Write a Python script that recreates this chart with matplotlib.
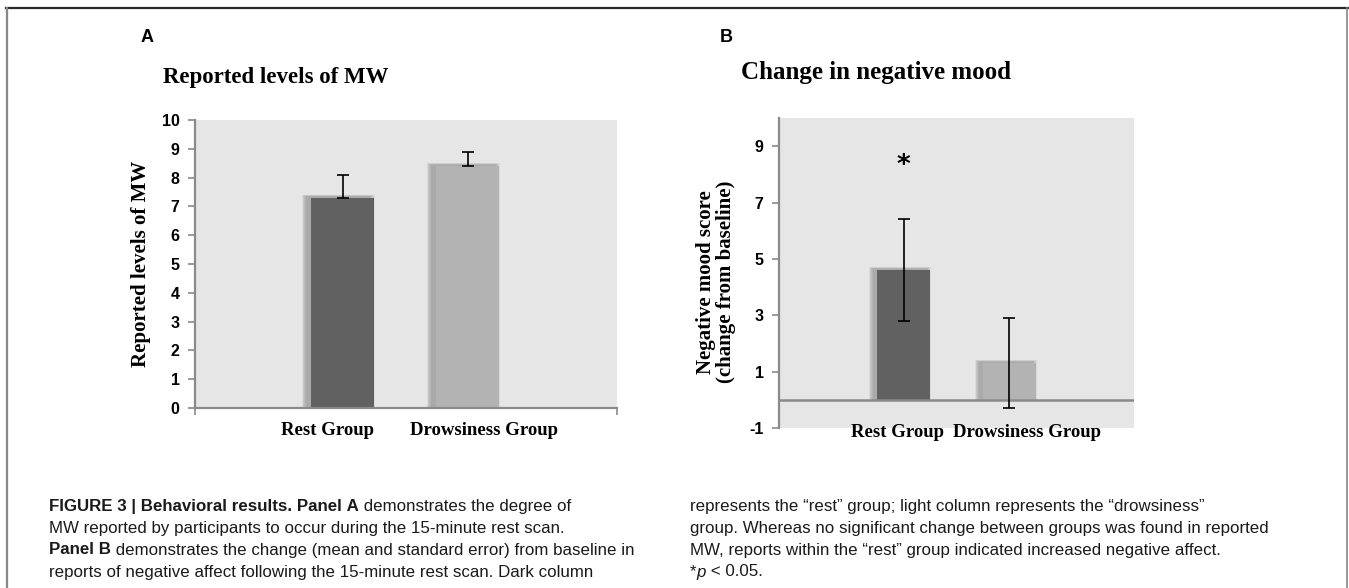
import matplotlib
matplotlib.use("Agg")
import matplotlib.pyplot as plt
import numpy as np
from matplotlib.lines import Line2D
from matplotlib.transforms import blended_transform_factory

# data
groups = ["Rest Group", "Drowsiness Group"]
mw_mean = [7.3, 8.4]
mw_err = [0.8, 0.5]
mood_mean = [4.6, 1.3]
mood_err = [1.8, 1.6]
mw_ticks = list(range(0, 11))
mood_ticks = [-1, 1, 3, 5, 7, 9]

W, H = 1349, 588
DARK = "#616161"
LIGHT = "#b3b3b3"
BG = "#e6e6e6"
AXC = "#8a8a8a"
SERIF = ["Liberation Serif", "DejaVu Serif"]
NUMF = ["Liberation Sans", "DejaVu Sans"]
CAPF = ["Liberation Sans", "DejaVu Sans"]

plt.rcParams["axes.unicode_minus"] = False

fig = plt.figure(figsize=(W / 100, H / 100), dpi=100)


def px_axes(left, top, right, bottom):
    return fig.add_axes([left / W, 1 - bottom / H, (right - left) / W, (bottom - top) / H])


def shadow_bars(ax, x, h, width, color):
    # soft drop shadow up-left of each column
    for k in range(6):
        s = 0.014 * (k + 1)
        ax.bar(x - 0.035, np.array(h) + 0.05 + 0.012 * k, width + s, color="#505050",
               alpha=0.08, zorder=1)
    ax.bar(x, h, width, color=color, zorder=2)


def style_axis(ax, ticks):
    ax.set_facecolor(BG)
    for sp in ["top", "right"]:
        ax.spines[sp].set_visible(False)
    ax.spines["left"].set_color(AXC)
    ax.spines["left"].set_linewidth(1.6)
    ax.set_yticks(ticks)
    ax.tick_params(axis="y", direction="out", length=5, width=1.2, color=AXC, pad=6)
    for lab in ax.get_yticklabels():
        lab.set_fontfamily(NUMF)
        lab.set_fontweight("bold")
        lab.set_fontsize(11.5)


x = np.arange(len(groups))

# ---- Panel A ----
axA = px_axes(195, 120, 617, 408)
shadow_bars(axA, x, mw_mean, 0.5, [DARK, LIGHT])
axA.errorbar(x, mw_mean, yerr=[np.zeros(2), mw_err], fmt="none", ecolor="black",
             elinewidth=1.2, capsize=4, capthick=1.2, zorder=3)
axA.set_xlim(-1.18, 2.196)
axA.set_ylim(0, 10)
style_axis(axA, mw_ticks)
axA.spines["bottom"].set_color(AXC)
axA.spines["bottom"].set_linewidth(1.6)
axA.set_xticks(x + np.array([-0.12, 0.13]))
axA.set_xticklabels(groups, fontfamily=SERIF, fontweight="bold", fontsize=13.5)
axA.tick_params(axis="x", length=0, pad=10)
axA.set_xticks([-1.18, 2.196], minor=True)
axA.tick_params(axis="x", which="minor", length=5, width=1.2, color=AXC, direction="out")
axA.set_ylabel("Reported levels of MW", fontfamily=SERIF, fontweight="bold", fontsize=15, labelpad=8)
fig.text(163 / W, 1 - 78 / H, "Reported levels of MW", fontfamily=SERIF, fontsize=16.5,
         fontweight="bold", va="center", ha="left")
fig.text(147 / W, 1 - 38 / H, "A", fontfamily=["Liberation Sans", "DejaVu Sans"],
         fontweight="bold", fontsize=13, va="center", ha="center")

# ---- Panel B ----
axB = px_axes(779, 118, 1134, 428)
shadow_bars(axB, x, mood_mean, 0.5, [DARK, LIGHT])
axB.errorbar(x, mood_mean, yerr=mood_err, fmt="none", ecolor="black",
             elinewidth=1.2, capsize=4, capthick=1.2, zorder=3)
axB.axhline(0, color=AXC, lw=1.8, zorder=2.5)
axB.set_xlim(-1.175, 2.175)
axB.set_ylim(-1, 10)
style_axis(axB, mood_ticks)
axB.spines["bottom"].set_visible(False)
axB.set_xticks([])
trB = blended_transform_factory(axB.transData, axB.transAxes)
for xi, g in zip(x + np.array([-0.06, 0.165]), groups):
    axB.text(xi, -0.016, g, transform=trB, ha="center", va="center",
             fontfamily=SERIF, fontweight="bold", fontsize=13.5)
axB.text(x[0], 8.3, "*", ha="center", va="center", fontsize=19, fontweight="bold",
         fontfamily=["DejaVu Sans"])
fig.text(716 / W, 1 - 282 / H, "Negative mood score\n(change from baseline)", rotation=90,
         fontfamily=SERIF, fontweight="bold", fontsize=15, ha="center", va="center",
         linespacing=1.05, multialignment="center")
fig.text(741 / W, 1 - 73 / H, "Change in negative mood", fontfamily=SERIF, fontsize=18,
         fontweight="bold", va="center", ha="left")
fig.text(726 / W, 1 - 38 / H, "B", fontfamily=["Liberation Sans", "DejaVu Sans"],
         fontweight="bold", fontsize=13, va="center", ha="center")

# ---- frame ----
fig.add_artist(Line2D([6 / W, 1348 / W], [1 - 8 / H, 1 - 8 / H], color="#2a2a2a", lw=1.6))
fig.add_artist(Line2D([6.5 / W, 6.5 / W], [0, 1 - 8 / H], color="#888888", lw=1.6))
fig.add_artist(Line2D([1347 / W, 1347 / W], [0, 1 - 8 / H], color="#888888", lw=1.2))

# ---- caption ----
left_lines = [
    [("FIGURE 3 | Behavioral results. Panel A", "bold"), (" demonstrates the degree of", "normal")],
    [("MW reported by participants to occur during the 15-minute rest scan.", "normal")],
    [("Panel B", "bold"), (" demonstrates the change (mean and standard error) from baseline in", "normal")],
    [("reports of negative affect following the 15-minute rest scan. Dark column", "normal")],
]
right_lines = [
    [("represents the \u201crest\u201d group; light column represents the \u201cdrowsiness\u201d", "normal")],
    [("group. Whereas no significant change between groups was found in reported", "normal")],
    [("MW, reports within the \u201crest\u201d group indicated increased negative affect.", "normal")],
    [("*", "normal"), ("p", "italic"), (" < 0.05.", "normal")],
]

renderer = fig.canvas.get_renderer()


def write_line(x0, y0, pieces, size):
    xp = x0
    for txt, st in pieces:
        kw = dict(fontfamily=CAPF, fontsize=size, va="center", ha="left", color="#1a1a1a")
        if st == "bold":
            kw["fontweight"] = "bold"
        if st == "italic":
            kw["fontstyle"] = "italic"
        t = fig.text(xp / W, 1 - y0 / H, txt.replace(" ", "\u00a0"), **kw)
        xp += t.get_window_extent(renderer).width


for i, ln in enumerate(left_lines):
    write_line(49, 506 + 22 * i, ln, 12.2)
for i, ln in enumerate(right_lines):
    write_line(690, 506 + 22 * i, ln, 12.2)

fig.savefig("out.png", dpi=100)
